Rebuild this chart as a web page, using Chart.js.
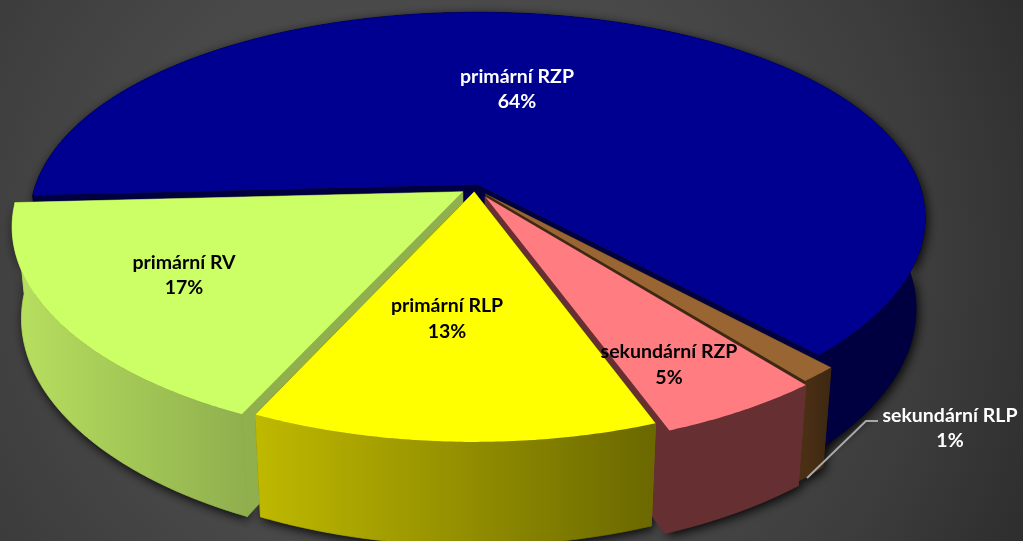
<!DOCTYPE html>
<html><head><meta charset="utf-8">
<style>html,body{margin:0;padding:0;background:#333;overflow:hidden}canvas{display:block}</style>
<script src="https://cdn.jsdelivr.net/npm/chart.js@4"></script>
</head><body>
<canvas id="c" width="1023" height="541"></canvas>
<script>
const categories = ['primární RZP','sekundární RLP','sekundární RZP','primární RLP','primární RV'];
const shares = [63.9, 1.2, 5.1, 12.5, 17.3];
const shownPct = ['64%','1%','5%','13%','17%'];

const topColors = ['#000090','#996633','#FF7C80','#FFFF00','#CCFF66'];
const wallColors = ['#000040','#3D2812','#663033','#7A7800','#90B04E'];
const sideColors = [['#000040','#000040'],['#4A2F14','#3D2812'],['#663033','#663033'],['#BFB900','#6A6800'],['#B8E05F','#90B04E']];
const explode = [5,10,13,5,8.5];
const labelColors = ['#fff','#fff','#000','#000','#000'];
const labelAnchors = [[517,77,517,102],[950,416,950,441],[669,352,669,378],[447,306,447,332],[184,263,184,288]];
const paintOrder = [0,1,2,4,3];

// projection of the pie's disc (unit radius) into the picture
const V = {cx:474.5, cy:188, Rx:443, Ry:204, k:0.178, m:0.02, D:92, q:0.018, s:0.5};
function proj(u,v,z){
  const w = 1 + V.k*v + V.m*z;
  return [V.cx + (V.Rx*u*(1+V.q*v) + V.s*v)/w, V.cy - V.Ry*v/w + V.D*z/w];
}
function arcPts(el,z,r,a0,a1){
  const e = el.options.offset/el.outerRadius, mid=(el.startAngle+el.endAngle)/2;
  const ou=e*Math.cos(mid), ov=-e*Math.sin(mid);
  const n=Math.max(2,Math.ceil(Math.abs(a1-a0)/0.01)), pts=[];
  for(let i=0;i<=n;i++){
    const a=a0+(a1-a0)*i/n;
    pts.push(proj(ou+r*Math.cos(a), ov-r*Math.sin(a), z));
  }
  return pts;
}
function poly(ctx,pts){ctx.beginPath();pts.forEach((p,i)=>i?ctx.lineTo(p[0],p[1]):ctx.moveTo(p[0],p[1]));ctx.closePath();}

const pie3d = {
  id:'pie3d',
  beforeDraw(chart){
    const ctx=chart.ctx, W=chart.width, H=chart.height;
    const g=ctx.createRadialGradient(430,260,0,430,260,650);
    g.addColorStop(0,'#505050');g.addColorStop(0.5,'#484848');g.addColorStop(0.78,'#3C3C3C');g.addColorStop(1,'#2E2E2E');
    ctx.fillStyle=g;ctx.fillRect(0,0,W,H);
  },
  beforeDatasetsDraw(chart){
    const ctx=chart.ctx, els=chart.getDatasetMeta(0).data;
    const parts=i=>{
      const el=els[i], s=el.startAngle, t=el.endAngle;
      const top=arcPts(el,0,1,s,t), bot=arcPts(el,1,1,s,t);
      const ct=arcPts(el,0,0,0,0)[0], cb=arcPts(el,1,0,0,0)[0];
      return {top,bot,ct,cb};
    };
    // soft shadow first, so it never falls on another slice
    ctx.save();
    ctx.shadowColor='rgba(0,0,0,0.95)';ctx.shadowBlur=11;ctx.shadowOffsetX=2;ctx.shadowOffsetY=3;ctx.fillStyle='#111';
    paintOrder.forEach(i=>{
      const p=parts(i);
      poly(ctx,p.top.concat(p.bot.slice().reverse()));ctx.fill();
    });
    ctx.restore();
    ctx.lineWidth=0.8;ctx.lineJoin='round';
    paintOrder.forEach(i=>{
      const p=parts(i), n=p.top.length-1;
      ctx.fillStyle=ctx.strokeStyle=wallColors[i];
      poly(ctx,[p.ct,p.top[0],p.bot[0],p.cb]);ctx.fill();ctx.stroke();
      poly(ctx,[p.ct,p.top[n],p.bot[n],p.cb]);ctx.fill();ctx.stroke();
      const xs=p.top.map(q=>q[0]);
      const sg=ctx.createLinearGradient(Math.min(...xs),0,Math.max(...xs),0);
      sg.addColorStop(0,sideColors[i][0]);sg.addColorStop(1,sideColors[i][1]);
      ctx.fillStyle=ctx.strokeStyle=sg;
      poly(ctx,p.top.concat(p.bot.slice().reverse()));ctx.fill();ctx.stroke();
      ctx.fillStyle=topColors[i];
      poly(ctx,[p.ct].concat(p.top));ctx.fill();
    });
    return false;
  },
  afterDraw(chart){
    const ctx=chart.ctx;
    ctx.strokeStyle='#A8A8A8';ctx.lineWidth=2;
    ctx.beginPath();ctx.moveTo(878,421);ctx.lineTo(866,421);ctx.lineTo(807,478);ctx.stroke();
    ctx.font='bold 19.5px Lato, "Open Sans", sans-serif';
    ctx.textAlign='center';ctx.textBaseline='middle';
    categories.forEach((c,i)=>{
      const a=labelAnchors[i];
      ctx.fillStyle=labelColors[i];
      ctx.fillText(c,a[0],a[1]);
      ctx.fillText(shownPct[i],a[2],a[3]);
    });
  }
};

new Chart(document.getElementById('c'),{
  type:'pie',
  data:{labels:categories,datasets:[{data:shares,offset:explode,backgroundColor:topColors,borderWidth:0}]},
  options:{responsive:false,animation:false,rotation:267,
    plugins:{legend:{display:false},tooltip:{enabled:false}}},
  plugins:[pie3d]
});
</script>
</body></html>
